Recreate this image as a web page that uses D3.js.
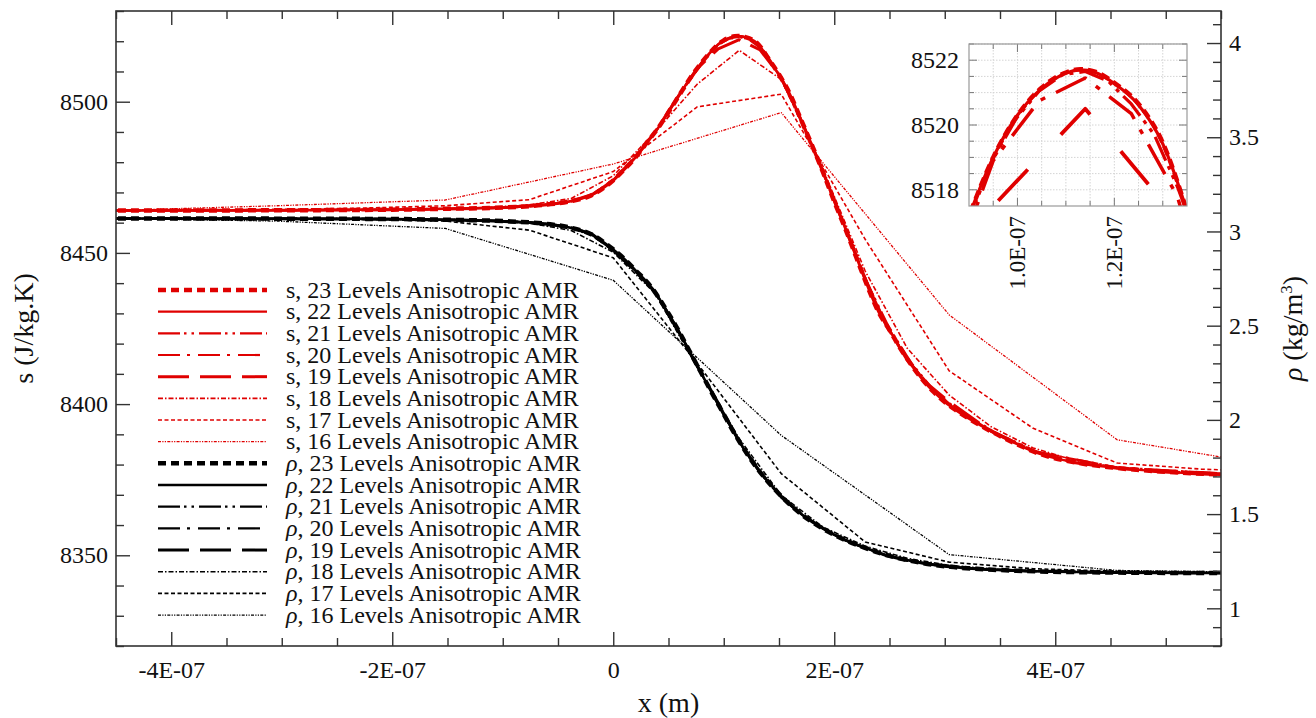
<!DOCTYPE html>
<html><head><meta charset="utf-8">
<script src="https://cdn.jsdelivr.net/npm/d3@7"></script>
<style>
body{margin:0;background:#fff;}
svg{display:block;font-family:"Liberation Serif","Times New Roman",serif;}
</style></head><body>
<svg id="chart" width="1316" height="718"></svg>
<script>
// ---------- DATA (x values in units of 1E-07 m) ----------
const xUnit = 1e-7;
const xTicks = [-4, -2, 0, 2, 4];
const xTickLabels = ["-4E-07", "-2E-07", "0", "2E-07", "4E-07"];
const sTicks = [8350, 8400, 8450, 8500];
const sTickLabels = ["8350", "8400", "8450", "8500"];
const rhoTicks = [1, 1.5, 2, 2.5, 3, 3.5, 4];
const rhoTickLabels = ["1", "1.5", "2", "2.5", "3", "3.5", "4"];
const insetXTicks = [1.0, 1.2];
const insetXTickLabels = ["1.0E-07", "1.2E-07"];
const insetSTicks = [8518, 8520, 8522];
const insetSTickLabels = ["8518", "8520", "8522"];
const levels = [23, 22, 21, 20, 19, 18, 17, 16];

// entropy s (J/kg.K)
const s23 = [[-4.6,8464.0],[-3.0,8464.1],[-2.0,8464.3],[-1.5,8464.6],[-1.0,8465.0],[-0.6,8466.0],[-0.4,8467.0],[-0.2,8469.0],[0.0,8474.0],[0.1,8477.6],[0.2,8481.5],[0.3,8486.3],[0.4,8491.0],[0.5,8496.5],[0.6,8502.3],[0.7,8508.0],[0.8,8513.0],[0.9,8517.2],[0.95,8519.0],[1.0,8520.3],[1.05,8521.15],[1.1,8521.62],[1.13,8521.72],[1.16,8521.65],[1.2,8521.3],[1.25,8520.65],[1.3,8519.45],[1.34,8517.8],[1.4,8514.5],[1.5,8509.0],[1.6,8502.5],[1.7,8494.0],[1.8,8485.5],[1.9,8476.5],[2.0,8467.0],[2.1,8458.0],[2.2,8448.5],[2.3,8439.0],[2.4,8430.5],[2.5,8424.5],[2.6,8418.3],[2.7,8412.8],[2.8,8408.0],[2.9,8404.0],[3.0,8400.7],[3.1,8398.0],[3.25,8394.5],[3.45,8390.4],[3.65,8386.8],[3.84,8383.8],[4.2,8380.6],[4.55,8378.9],[5.0,8377.6],[5.6,8376.6]];
const s22 = [[-4.6,8464.0],[-3.0,8464.1],[-2.0,8464.3],[-1.5,8464.6],[-1.0,8465.0],[-0.6,8466.0],[-0.4,8467.0],[-0.2,8469.0],[0.0,8474.0],[0.1,8477.6],[0.2,8481.5],[0.3,8486.3],[0.4,8491.0],[0.5,8496.5],[0.6,8502.3],[0.7,8508.0],[0.8,8513.0],[0.9,8517.2],[0.95,8519.0],[1.0,8520.3],[1.05,8521.13],[1.1,8521.6],[1.13,8521.7],[1.16,8521.63],[1.2,8521.28],[1.25,8520.62],[1.3,8519.42],[1.34,8517.8],[1.4,8514.5],[1.5,8509.0],[1.6,8502.5],[1.7,8494.0],[1.8,8485.5],[1.9,8476.5],[2.0,8467.0],[2.1,8458.0],[2.2,8448.5],[2.3,8439.0],[2.4,8430.5],[2.5,8424.5],[2.6,8418.3],[2.7,8412.8],[2.8,8408.0],[2.9,8404.0],[3.0,8400.7],[3.1,8398.0],[3.25,8394.5],[3.45,8390.4],[3.65,8386.8],[3.84,8383.8],[4.2,8380.6],[4.55,8378.9],[5.0,8377.6],[5.6,8376.6]];
const s21 = [[-4.6,8464.0],[-3.0,8464.1],[-2.0,8464.3],[-1.5,8464.6],[-1.0,8465.0],[-0.6,8466.0],[-0.4,8467.0],[-0.2,8469.1],[0.0,8474.2],[0.2,8481.6],[0.4,8491.0],[0.6,8502.6],[0.8,8513.0],[0.9025,8517.2],[0.95,8518.95],[0.9975,8520.2],[1.045,8521.05],[1.0925,8521.55],[1.14,8521.65],[1.1875,8521.35],[1.235,8520.65],[1.2825,8519.7],[1.33,8518.1],[1.3775,8516.2],[1.5,8509.2],[1.7,8494.3],[1.9,8476.8],[2.1,8458.5],[2.3,8440.0],[2.5,8425.0],[2.7,8413.5],[2.9,8404.6],[3.1,8398.5],[3.45,8390.8],[3.84,8384.1],[4.55,8379.1],[5.6,8376.8]];
const s20 = [[-4.6,8464.0],[-3.0,8464.1],[-2.0,8464.3],[-1.5,8464.6],[-1.0,8465.0],[-0.6,8466.0],[-0.38,8467.1],[-0.19,8469.2],[0.0,8474.3],[0.19,8481.4],[0.38,8490.3],[0.57,8500.8],[0.76,8510.5],[0.855,8515.0],[0.95,8518.9],[1.045,8520.75],[1.14,8521.45],[1.235,8520.35],[1.33,8517.8],[1.425,8513.0],[1.52,8507.5],[1.71,8493.5],[1.9,8477.0],[2.09,8459.5],[2.28,8441.5],[2.47,8426.3],[2.66,8415.0],[2.85,8406.3],[3.04,8400.2],[3.42,8391.0],[3.8,8384.5],[4.56,8379.0],[5.7,8376.7]];
const s19 = [[-4.56,8464.0],[-3.8,8464.1],[-3.04,8464.1],[-2.28,8464.2],[-1.52,8464.5],[-1.14,8464.8],[-0.76,8465.4],[-0.57,8466.0],[-0.38,8467.1],[-0.19,8469.3],[0.0,8474.0],[0.19,8481.0],[0.38,8490.0],[0.57,8500.8],[0.76,8511.0],[0.95,8517.5],[1.14,8520.5],[1.33,8517.1],[1.52,8508.0],[1.71,8493.0],[1.9,8476.5],[2.09,8459.0],[2.28,8441.5],[2.47,8426.0],[2.66,8414.6],[2.85,8406.5],[3.04,8400.8],[3.42,8391.0],[3.8,8384.5],[4.18,8380.6],[4.56,8378.8],[4.94,8377.6],[5.32,8376.9],[5.7,8376.6]];
const s18 = [[-4.56,8464.0],[-3.8,8464.1],[-3.04,8464.2],[-2.28,8464.3],[-1.52,8464.6],[-1.14,8465.0],[-0.76,8465.9],[-0.38,8468.0],[0.0,8475.5],[0.38,8490.0],[0.76,8505.8],[1.14,8517.0],[1.52,8507.4],[1.9,8477.5],[2.28,8444.0],[2.66,8418.5],[3.04,8403.0],[3.42,8392.5],[3.8,8385.5],[4.18,8381.3],[4.56,8379.2],[4.94,8378.0],[5.32,8377.3],[5.7,8377.0]];
const s17 = [[-4.56,8464.1],[-3.8,8464.2],[-3.04,8464.4],[-2.28,8464.8],[-1.52,8465.6],[-0.76,8467.6],[0.0,8476.9],[0.76,8498.3],[1.52,8502.5],[2.28,8454.5],[3.04,8411.0],[3.8,8392.0],[4.56,8380.5],[5.32,8378.5],[6.08,8377.5]];
const s16 = [[-4.56,8464.0],[-3.04,8465.6],[-1.52,8467.5],[0.0,8479.4],[1.52,8496.4],[3.04,8429.5],[4.56,8388.2],[6.08,8379.0]];

// density rho (kg/m3)
const rho23 = [[-4.6,3.069],[-3.0,3.068],[-2.0,3.066],[-1.5,3.062],[-1.0,3.055],[-0.6,3.04],[-0.4,3.022],[-0.2,2.985],[0.0,2.905],[0.1,2.855],[0.2,2.795],[0.35,2.70],[0.5,2.565],[0.6,2.465],[0.69,2.365],[0.8,2.245],[0.9,2.135],[1.0,2.03],[1.09,1.935],[1.2,1.83],[1.3,1.745],[1.4,1.672],[1.48,1.62],[1.6,1.55],[1.7,1.50],[1.87,1.432],[2.0,1.39],[2.1,1.362],[2.26,1.325],[2.4,1.296],[2.5,1.278],[2.66,1.256],[2.8,1.24],[3.05,1.22],[3.5,1.203],[3.84,1.196],[4.5,1.19],[5.6,1.187]];
const rho22 = [[-4.6,3.069],[-3.0,3.068],[-2.0,3.066],[-1.5,3.062],[-1.0,3.055],[-0.6,3.04],[-0.4,3.022],[-0.2,2.985],[0.0,2.905],[0.1,2.855],[0.2,2.795],[0.35,2.70],[0.5,2.565],[0.6,2.465],[0.69,2.365],[0.8,2.245],[0.9,2.135],[1.0,2.03],[1.09,1.935],[1.2,1.83],[1.3,1.745],[1.4,1.672],[1.48,1.62],[1.6,1.55],[1.7,1.50],[1.87,1.432],[2.0,1.39],[2.1,1.362],[2.26,1.325],[2.4,1.296],[2.5,1.278],[2.66,1.256],[2.8,1.24],[3.05,1.22],[3.5,1.203],[3.84,1.196],[4.5,1.19],[5.6,1.187]];
const rho21 = [[-4.6,3.069],[-3.0,3.068],[-2.0,3.066],[-1.5,3.062],[-1.0,3.055],[-0.6,3.04],[-0.4,3.021],[-0.2,2.983],[0.0,2.90],[0.2,2.79],[0.4,2.66],[0.6,2.462],[0.8,2.242],[1.0,2.025],[1.2,1.826],[1.4,1.67],[1.6,1.55],[1.8,1.457],[2.0,1.39],[2.2,1.338],[2.4,1.296],[2.6,1.263],[2.8,1.24],[3.05,1.22],[3.5,1.203],[3.84,1.196],[4.5,1.19],[5.6,1.187]];
const rho20 = [[-4.6,3.069],[-3.0,3.068],[-2.0,3.066],[-1.5,3.062],[-1.0,3.055],[-0.6,3.04],[-0.38,3.02],[-0.19,2.982],[0.0,2.898],[0.19,2.795],[0.38,2.675],[0.57,2.49],[0.76,2.285],[0.95,2.085],[1.14,1.885],[1.33,1.725],[1.52,1.595],[1.71,1.497],[1.9,1.424],[2.09,1.364],[2.28,1.32],[2.47,1.282],[2.66,1.256],[2.85,1.236],[3.04,1.221],[3.42,1.205],[3.8,1.197],[4.56,1.19],[5.7,1.187]];
const rho19 = [[-4.56,3.069],[-3.8,3.068],[-3.04,3.067],[-2.28,3.066],[-1.52,3.062],[-1.14,3.057],[-0.76,3.047],[-0.57,3.037],[-0.38,3.02],[-0.19,2.985],[0.0,2.90],[0.19,2.795],[0.38,2.68],[0.57,2.49],[0.76,2.285],[0.95,2.09],[1.14,1.885],[1.33,1.72],[1.52,1.59],[1.71,1.495],[1.9,1.425],[2.09,1.365],[2.28,1.32],[2.47,1.28],[2.66,1.254],[2.85,1.235],[3.04,1.22],[3.42,1.205],[3.8,1.197],[4.56,1.19],[5.7,1.187]];
const rho18 = [[-4.56,3.069],[-3.8,3.068],[-3.04,3.067],[-2.28,3.065],[-1.52,3.06],[-1.14,3.055],[-0.76,3.045],[-0.38,3.005],[0.0,2.89],[0.38,2.67],[0.76,2.28],[1.14,1.90],[1.52,1.60],[1.9,1.43],[2.28,1.33],[2.66,1.265],[3.04,1.228],[3.42,1.21],[3.8,1.20],[4.18,1.194],[4.56,1.191],[4.94,1.189],[5.32,1.188],[5.7,1.187]];
const rho17 = [[-4.56,3.069],[-3.8,3.068],[-3.04,3.067],[-2.28,3.064],[-1.52,3.055],[-0.76,3.007],[0.0,2.86],[0.76,2.30],[1.52,1.715],[2.28,1.352],[3.04,1.245],[3.8,1.21],[4.56,1.197],[5.32,1.19],[6.08,1.188]];
const rho16 = [[-4.56,3.069],[-3.04,3.055],[-1.52,3.016],[0.0,2.741],[1.52,1.918],[3.04,1.285],[4.56,1.201],[6.08,1.19]];

const sSeries = {23:s23, 22:s22, 21:s21, 20:s20, 19:s19, 18:s18, 17:s17, 16:s16};
const rhoSeries = {23:rho23, 22:rho22, 21:rho21, 20:rho20, 19:rho19, 18:rho18, 17:rho17, 16:rho16};

// ---------- STYLES ----------
const RED = "#e00000", BLACK = "#000000";
const style = {
  23:{w:4.5, dash:"8,5", curve:d3.curveMonotoneX},
  22:{w:2.4, dash:null, curve:d3.curveMonotoneX},
  21:{w:2.2, dash:"22,4,2.5,5,2.5,5", curve:d3.curveLinear},
  20:{w:2.2, dash:"22,7,3,8", curve:d3.curveLinear},
  19:{w:3, dash:"31,11", curve:d3.curveLinear},
  18:{w:1.6, dash:"5,2,1.5,2", curve:d3.curveLinear},
  17:{w:1.6, dash:"4,2.5", curve:d3.curveLinear},
  16:{w:1.3, dash:"3,1.3,1.2,1.3,1.2,1.3", curve:d3.curveLinear}
};
const insetStyle = {
  23:{w:4.5, dash:"9,5"},
  22:{w:3.2, dash:null},
  21:{w:3.2, dash:"26,6,4,6,4,6"},
  20:{w:3.5, dash:"34,12,5,12"},
  19:{w:3.8, dash:"43,48"},
  18:{w:2, dash:"5,2,1.5,2"},
  17:{w:2, dash:"4,2.5"},
  16:{w:1.6, dash:"3,1.3,1.2,1.3,1.2,1.3"}
};

// ---------- LAYOUT ----------
const M = {l:116, r:1221, t:11, b:646};
const svg = d3.select("#chart");
const x = d3.scaleLinear().domain([-4.5e-7, 5.5e-7]).range([M.l, M.r]);
const yS = d3.scaleLinear().domain([8320, 8530]).range([M.b, M.t]);
const yR = d3.scaleLinear().domain([0.8, 4.17]).range([M.b, M.t]);
const AX = "#333";

svg.append("defs").append("clipPath").attr("id","clipMain")
  .append("rect").attr("x",M.l).attr("y",M.t).attr("width",M.r-M.l).attr("height",M.b-M.t);

const plot = svg.append("g").attr("clip-path","url(#clipMain)");
const drawOrder = [16,17,18,19,20,21,22,23];

drawOrder.forEach(lv => {
  const st = style[lv];
  const lineR = d3.line().curve(st.curve).x(d => x(d[0]*xUnit)).y(d => yR(d[1]));
  plot.append("path").datum(rhoSeries[lv]).attr("d", lineR)
    .attr("fill","none").attr("stroke",BLACK).attr("stroke-width",st.w)
    .attr("stroke-dasharray", st.dash).attr("stroke-linejoin","round");
});
drawOrder.forEach(lv => {
  const st = style[lv];
  const lineS = d3.line().curve(st.curve).x(d => x(d[0]*xUnit)).y(d => yS(d[1]));
  plot.append("path").datum(sSeries[lv]).attr("d", lineS)
    .attr("fill","none").attr("stroke",RED).attr("stroke-width",st.w)
    .attr("stroke-dasharray", st.dash).attr("stroke-linejoin","round");
});

// ---------- AXES ----------
function styleAxis(g, fs){
  g.select(".domain").remove();
  g.selectAll(".tick line").attr("stroke",AX).attr("stroke-width",1.4);
  g.selectAll(".tick text").attr("fill","#111").style("font-size",fs+"px")
    .style("font-family",'"Liberation Serif","Times New Roman",serif');
}
const xMinor = d3.range(-4.5, 5.51, 0.5).filter(v => Math.abs(v % 2) > 1e-9).map(v => v*xUnit);
const sMinor = d3.range(8320, 8531, 10).filter(v => v % 50 !== 0);
const rMinor = d3.range(8, 42, 1).map(v => v/10).filter(v => Math.abs(v*2 - Math.round(v*2)) > 1e-9);

// bottom
svg.append("g").attr("transform",`translate(0,${M.b})`)
  .call(d3.axisBottom(x).tickValues(xTicks.map(v=>v*xUnit)).tickFormat((d,i)=>xTickLabels[i]).tickSize(-14).tickPadding(15))
  .call(g=>styleAxis(g,24));
svg.append("g").attr("transform",`translate(0,${M.b})`)
  .call(d3.axisBottom(x).tickValues(xMinor).tickFormat("").tickSize(-8)).call(g=>styleAxis(g,24));
// top
svg.append("g").attr("transform",`translate(0,${M.t})`)
  .call(d3.axisTop(x).tickValues(xTicks.map(v=>v*xUnit)).tickFormat("").tickSize(-14)).call(g=>styleAxis(g,24));
svg.append("g").attr("transform",`translate(0,${M.t})`)
  .call(d3.axisTop(x).tickValues(xMinor).tickFormat("").tickSize(-8)).call(g=>styleAxis(g,24));
// left
svg.append("g").attr("transform",`translate(${M.l},0)`)
  .call(d3.axisLeft(yS).tickValues(sTicks).tickFormat((d,i)=>sTickLabels[i]).tickSize(-14).tickPadding(8))
  .call(g=>styleAxis(g,24));
svg.append("g").attr("transform",`translate(${M.l},0)`)
  .call(d3.axisLeft(yS).tickValues(sMinor).tickFormat("").tickSize(-8)).call(g=>styleAxis(g,24));
// right
svg.append("g").attr("transform",`translate(${M.r},0)`)
  .call(d3.axisRight(yR).tickValues(rhoTicks).tickFormat((d,i)=>rhoTickLabels[i]).tickSize(-14).tickPadding(8))
  .call(g=>styleAxis(g,24));
svg.append("g").attr("transform",`translate(${M.r},0)`)
  .call(d3.axisRight(yR).tickValues(rMinor).tickFormat("").tickSize(-8)).call(g=>styleAxis(g,24));

svg.append("rect").attr("x",M.l).attr("y",M.t).attr("width",M.r-M.l).attr("height",M.b-M.t)
  .attr("fill","none").attr("stroke",AX).attr("stroke-width",1.6);

// axis titles
svg.append("text").attr("transform",`translate(${(M.l+M.r)/2},712)`).attr("text-anchor","middle")
  .style("font-size","28px").attr("fill","#111").text("x (m)");
svg.append("text").attr("transform",`translate(33,${(M.t+M.b)/2}) rotate(-90)`).attr("text-anchor","middle")
  .style("font-size","28px").attr("fill","#111").text("s (J/kg.K)");
const rt = svg.append("text").attr("transform",`translate(1302,${(M.t+M.b)/2}) rotate(-90)`).attr("text-anchor","middle")
  .style("font-size","28px").attr("fill","#111");
rt.append("tspan").style("font-style","italic").text("ρ");
rt.append("tspan").text(" (kg/m");
rt.append("tspan").attr("dy","-10").style("font-size","17px").text("3");
rt.append("tspan").attr("dy","10").text(")");

// ---------- LEGEND ----------
const legend = svg.append("g");
const legItems = [];
levels.forEach(lv => legItems.push({q:"s", lv, color:RED}));
levels.forEach(lv => legItems.push({q:"ρ", lv, color:BLACK}));
legItems.forEach((it,i) => {
  const y = 290 + i*21.67;
  const st = style[it.lv];
  legend.append("line").attr("x1",158).attr("x2",267).attr("y1",y).attr("y2",y)
    .attr("stroke",it.color).attr("stroke-width",st.w).attr("stroke-dasharray",st.dash);
  const t = legend.append("text").attr("x",286).attr("y",y+7.7).style("font-size","24px").attr("fill","#111");
  t.append("tspan").style("font-style", it.q==="ρ" ? "italic" : "normal").text(it.q);
  t.append("tspan").text(`, ${it.lv} Levels Anisotropic AMR`);
});

// ---------- INSET ----------
const I = {l:969, r:1187, t:44, b:206};
const xi = d3.scaleLinear().domain([0.9e-7, 1.35e-7]).range([I.l, I.r]);
const yi = d3.scaleLinear().domain([8517.5, 8522.5]).range([I.b, I.t]);
svg.select("defs").append("clipPath").attr("id","clipInset")
  .append("rect").attr("x",I.l).attr("y",I.t).attr("width",I.r-I.l).attr("height",I.b-I.t);
const inset = svg.append("g");
inset.append("rect").attr("x",I.l).attr("y",I.t).attr("width",I.r-I.l).attr("height",I.b-I.t).attr("fill","#fff");
const gridX = d3.range(18, 28, 1).map(v => v*0.05e-7).filter(v => v > 0.9e-7 + 1e-12 && v < 1.35e-7 - 1e-12);
const gridY = d3.range(8518, 8522.6, 0.5);
inset.selectAll(".gx").data(gridX).join("line")
  .attr("x1",d=>xi(d)).attr("x2",d=>xi(d)).attr("y1",I.t).attr("y2",I.b)
  .attr("stroke","#d4d4d4").attr("stroke-width",1).attr("stroke-dasharray","1.5,1.5");
inset.selectAll(".gy").data(gridY).join("line")
  .attr("y1",d=>yi(d)).attr("y2",d=>yi(d)).attr("x1",I.l).attr("x2",I.r)
  .attr("stroke","#d4d4d4").attr("stroke-width",1).attr("stroke-dasharray","1.5,1.5");
// inset ticks
inset.selectAll(".tb").data(gridX).join("line")
  .attr("x1",d=>xi(d)).attr("x2",d=>xi(d)).attr("y1",I.b).attr("y2",d=> I.b - (insetXTicks.some(v=>Math.abs(v*xUnit-d)<1e-12)?8:5))
  .attr("stroke","#777").attr("stroke-width",1);
inset.selectAll(".tt").data(gridX).join("line")
  .attr("x1",d=>xi(d)).attr("x2",d=>xi(d)).attr("y1",I.t).attr("y2",d=> I.t + (insetXTicks.some(v=>Math.abs(v*xUnit-d)<1e-12)?8:5))
  .attr("stroke","#777").attr("stroke-width",1);
inset.selectAll(".tl").data(gridY).join("line")
  .attr("y1",d=>yi(d)).attr("y2",d=>yi(d)).attr("x1",I.l).attr("x2",d=> I.l + (d%2===0?8:5))
  .attr("stroke","#777").attr("stroke-width",1);
inset.selectAll(".tr").data(gridY).join("line")
  .attr("y1",d=>yi(d)).attr("y2",d=>yi(d)).attr("x1",I.r).attr("x2",d=> I.r - (d%2===0?8:5))
  .attr("stroke","#777").attr("stroke-width",1);

const insetPlot = inset.append("g").attr("clip-path","url(#clipInset)");
drawOrder.forEach(lv => {
  const st = insetStyle[lv];
  const ln = d3.line().curve(style[lv].curve).x(d => xi(d[0]*xUnit)).y(d => yi(d[1]));
  insetPlot.append("path").datum(sSeries[lv]).attr("d", ln)
    .attr("fill","none").attr("stroke",RED).attr("stroke-width",st.w)
    .attr("stroke-dasharray", st.dash).attr("stroke-linejoin","round");
});
inset.append("rect").attr("x",I.l).attr("y",I.t).attr("width",I.r-I.l).attr("height",I.b-I.t)
  .attr("fill","none").attr("stroke","#999").attr("stroke-width",1.2);

// inset labels
insetSTicks.forEach((v,i) => {
  inset.append("text").attr("x",I.l-10).attr("y",yi(v)+8).attr("text-anchor","end")
    .style("font-size","24px").attr("fill","#111").text(insetSTickLabels[i]);
});
insetXTicks.forEach((v,i) => {
  inset.append("text").attr("transform",`translate(${xi(v*xUnit)+8},${I.b+10}) rotate(-90)`).attr("text-anchor","end")
    .style("font-size","23px").attr("fill","#111").text(insetXTickLabels[i]);
});
</script>
</body></html>
